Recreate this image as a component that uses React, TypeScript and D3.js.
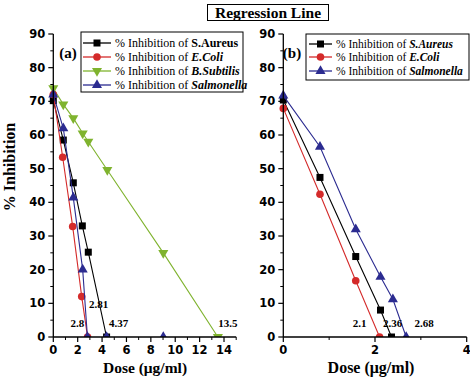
import React from "react";
import * as d3 from "d3";

// ---------- Data (panel a) ----------
const doseA_SA = [0, 0.82, 1.64, 2.38, 2.87, 4.37];
const inhA_SA = [70.2, 58.5, 45.8, 33, 25.2, 0];
const doseA_EC = [0, 0.77, 1.59, 2.33, 2.81];
const inhA_EC = [72, 53.4, 32.8, 12, 0];
const doseA_BS = [0, 0.82, 1.64, 2.41, 2.87, 4.43, 9.02, 13.5];
const inhA_BS = [73.9, 69.1, 65, 60.5, 58, 49.6, 25, 0];
const doseA_SAL = [0, 0.82, 1.64, 2.41, 2.8];
const inhA_SAL = [72, 62, 41.4, 20, 0];
const doseA_SALaxis = [4.37, 9.02];
const inhA_SALaxis = [0, 0];
const labelsA = ["2.81", "2.8", "4.37", "13.5"];
const labelsAx = [2.81, 2.8, 4.37, 13.5];
const labelsAy = [8.5, 3, 3, 3];

// ---------- Data (panel b) ----------
const doseB_SA = [0, 0.8, 1.58, 2.12, 2.36];
const inhB_SA = [70.4, 47.4, 23.9, 8.0, 0];
const doseB_EC = [0, 0.8, 1.58, 2.1];
const inhB_EC = [67.9, 42.4, 16.7, 0];
const doseB_SAL = [0, 0.8, 1.58, 2.12, 2.39, 2.68];
const inhB_SAL = [71.7, 56.5, 32, 17.9, 11.2, 0];
const labelsB = ["2.1", "2.36", "2.68"];
const labelsBx = [2.1, 2.36, 2.68];

const yTicks = [0, 10, 20, 30, 40, 50, 60, 70, 80, 90];
const yMinor = [5, 15, 25, 35, 45, 55, 65, 75, 85];
const xTicksA = [0, 2, 4, 6, 8, 10, 12, 14];
const xMinorA = [1, 3, 5, 7, 9, 11, 13, 15];
const xTicksB = [0, 2, 4];
const xMinorB = [1, 3];

const C = {
  black: "#000000",
  red: "#d42a2a",
  green: "#7fb32e",
  blue: "#2b2b90",
};

const SERIF = "'Liberation Serif', 'Times New Roman', serif";
const SANS = "'DejaVu Sans', sans-serif";

const y = d3.scaleLinear().domain([0, 90]).range([337, 34]);
const xA = d3.scaleLinear().domain([0, 15]).range([53.3, 236.2]);
const xB = d3.scaleLinear().domain([0, 4]).range([283.3, 466.7]);

type Shape = "square" | "circle" | "tri" | "triDown";

function Marker({ cx, cy, shape, color }: { cx: number; cy: number; shape: Shape; color: string }) {
  if (shape === "square") return <rect x={cx - 3.5} y={cy - 3.5} width={7} height={7} fill={color} />;
  if (shape === "circle") return <circle cx={cx} cy={cy} r={3.8} fill={color} />;
  const sym = d3.symbol().type(d3.symbolTriangle).size(44)();
  return (
    <path d={sym as string} transform={`translate(${cx},${cy})${shape === "triDown" ? " rotate(180)" : ""}`} fill={color} />
  );
}

function Series({ xs, ys, xScale, color, shape, clip }: any) {
  const pts = xs.map((d: number, i: number) => [xScale(d), y(ys[i])] as [number, number]);
  const line = d3.line()(pts) as string;
  return (
    <g clipPath={`url(#${clip})`}>
      <path d={line} fill="none" stroke={color} strokeWidth={1.1} />
      {pts.map((p: [number, number], i: number) => (
        <Marker key={i} cx={p[0]} cy={p[1]} shape={shape} color={color} />
      ))}
    </g>
  );
}

function Axes({ xScale, xTicks, xMinor, panel }: any) {
  const [x0, x1] = xScale.range();
  const ybase = y(0);
  return (
    <g>
      <line x1={x0} x2={x0} y1={y(90)} y2={ybase} stroke="#000" strokeWidth={1.3} />
      <line x1={x0} x2={x1} y1={ybase} y2={ybase} stroke="#000" strokeWidth={1.3} />
      {yTicks.map((t) => (
        <g key={"y" + t}>
          <line x1={x0 - 5} x2={x0} y1={y(t)} y2={y(t)} stroke="#000" strokeWidth={1.2} />
          <text x={x0 - 8} y={y(t) + 4} textAnchor="end" fontFamily={SANS} fontWeight="bold" fontSize={11.5}>
            {t}
          </text>
        </g>
      ))}
      {yMinor.map((t) => (
        <line key={"ym" + t} x1={x0 - 3} x2={x0} y1={y(t)} y2={y(t)} stroke="#000" strokeWidth={1} />
      ))}
      {xTicks.map((t: number) => (
        <g key={"x" + t}>
          <line x1={xScale(t)} x2={xScale(t)} y1={ybase} y2={ybase + 5} stroke="#000" strokeWidth={1.2} />
          <text x={xScale(t)} y={ybase + 17} textAnchor="middle" fontFamily={SANS} fontWeight="bold" fontSize={11.5}>
            {t}
          </text>
        </g>
      ))}
      {xMinor.map((t: number) => (
        <line key={"xm" + t} x1={xScale(t)} x2={xScale(t)} y1={ybase} y2={ybase + 3} stroke="#000" strokeWidth={1} />
      ))}
      <text
        x={panel === "a" ? 145 : 371}
        y={373}
        textAnchor="middle"
        fontFamily={SERIF}
        fontWeight="bold"
        fontSize={panel === "a" ? 15.5 : 16}
      >
        Dose (μg/ml)
      </text>
    </g>
  );
}

function LegendRow({ x, yy, color, shape, name, italic, len = 28, fs = 12 }: any) {
  return (
    <g>
      <line x1={x} x2={x + len} y1={yy} y2={yy} stroke={color} strokeWidth={1.3} />
      <Marker cx={x + len / 2} cy={yy} shape={shape} color={color} />
      <text x={x + len + 4} y={yy + 4} fontFamily={SERIF} fontSize={fs}>
        {"% Inhibition  of "}
        <tspan fontWeight="bold" fontStyle={italic ? "italic" : "normal"}>
          {name}
        </tspan>
      </text>
    </g>
  );
}

export default function App() {
  return (
    <svg width={470} height={378} style={{ position: "absolute", left: 0, top: 0, background: "#fff" }}>
      <defs>
        <clipPath id="clipA">
          <rect x={40} y={20} width={210} height={y(0) - 20} />
        </clipPath>
        <clipPath id="clipB">
          <rect x={270} y={20} width={210} height={y(0) - 20} />
        </clipPath>
      </defs>
      <rect width={470} height={378} fill="#fff" />

      {/* Title */}
      <rect x={207.5} y={4.5} width={121} height={16} fill="none" stroke="#000" strokeWidth={1} />
      <text x={268} y={17.5} textAnchor="middle" fontFamily={SERIF} fontWeight="bold" fontSize={15.5}>
        Regression Line
      </text>

      {/* Y label */}
      <text
        transform="translate(15,167) rotate(-90)"
        textAnchor="middle"
        fontFamily={SERIF}
        fontWeight="bold"
        fontSize={16}
      >
        % Inhibition
      </text>

      {/* Panel a */}
      <Series xs={doseA_BS} ys={inhA_BS} xScale={xA} color={C.green} shape="triDown" clip="clipA" />
      <Series xs={doseA_SA} ys={inhA_SA} xScale={xA} color={C.black} shape="square" clip="clipA" />
      <Series xs={doseA_EC} ys={inhA_EC} xScale={xA} color={C.red} shape="circle" clip="clipA" />
      <Series xs={doseA_SAL} ys={inhA_SAL} xScale={xA} color={C.blue} shape="tri" clip="clipA" />
      <g clipPath="url(#clipA)">
        {doseA_SALaxis.map((d, i) => (
          <Marker key={i} cx={xA(d)} cy={y(inhA_SALaxis[i])} shape="tri" color={C.blue} />
        ))}
      </g>
      <Axes xScale={xA} xTicks={xTicksA} xMinor={xMinorA} panel="a" />
      {labelsA.map((l, i) => (
        <text
          key={l}
          x={xA(labelsAx[i]) + (i === 0 ? 11 : i === 1 ? -10 : i === 2 ? 12 : 10)}
          y={y(labelsAy[i])}
          textAnchor="middle"
          fontFamily={SERIF}
          fontWeight="bold"
          fontSize={11}
        >
          {l}
        </text>
      ))}
      <text x={68} y={58} textAnchor="middle" fontFamily={SERIF} fontWeight="bold" fontSize={15}>
        (a)
      </text>
      <rect x={81} y={32} width={162} height={60} fill="#fff" stroke="#000" strokeWidth={1} />
      <LegendRow x={83} yy={43} color={C.black} shape="square" name="S.Aureus" italic={false} />
      <LegendRow x={83} yy={57} color={C.red} shape="circle" name="E.Coli" italic />
      <LegendRow x={83} yy={71} color={C.green} shape="triDown" name="B.Subtilis" italic />
      <LegendRow x={83} yy={85} color={C.blue} shape="tri" name="Salmonella" italic />

      {/* Panel b */}
      <Series xs={doseB_SA} ys={inhB_SA} xScale={xB} color={C.black} shape="square" clip="clipB" />
      <Series xs={doseB_EC} ys={inhB_EC} xScale={xB} color={C.red} shape="circle" clip="clipB" />
      <Series xs={doseB_SAL} ys={inhB_SAL} xScale={xB} color={C.blue} shape="tri" clip="clipB" />
      <Axes xScale={xB} xTicks={xTicksB} xMinor={xMinorB} panel="b" />
      {labelsB.map((l, i) => (
        <text
          key={l}
          x={xB(labelsBx[i]) + (i === 0 ? -20 : i === 1 ? 1 : 18)}
          y={y(3)}
          textAnchor="middle"
          fontFamily={SERIF}
          fontWeight="bold"
          fontSize={11}
        >
          {l}
        </text>
      ))}
      <text x={292} y={58} textAnchor="middle" fontFamily={SERIF} fontWeight="bold" fontSize={15}>
        (b)
      </text>
      <rect x={306} y={34} width={163} height={46} fill="#fff" stroke="#000" strokeWidth={1} />
      <LegendRow x={309} yy={44} color={C.black} shape="square" name="S.Aureus" italic len={23} fs={11.5} />
      <LegendRow x={309} yy={57} color={C.red} shape="circle" name="E.Coli" italic len={23} fs={11.5} />
      <LegendRow x={309} yy={71} color={C.blue} shape="tri" name="Salmonella" italic len={23} fs={11.5} />
    </svg>
  );
}
